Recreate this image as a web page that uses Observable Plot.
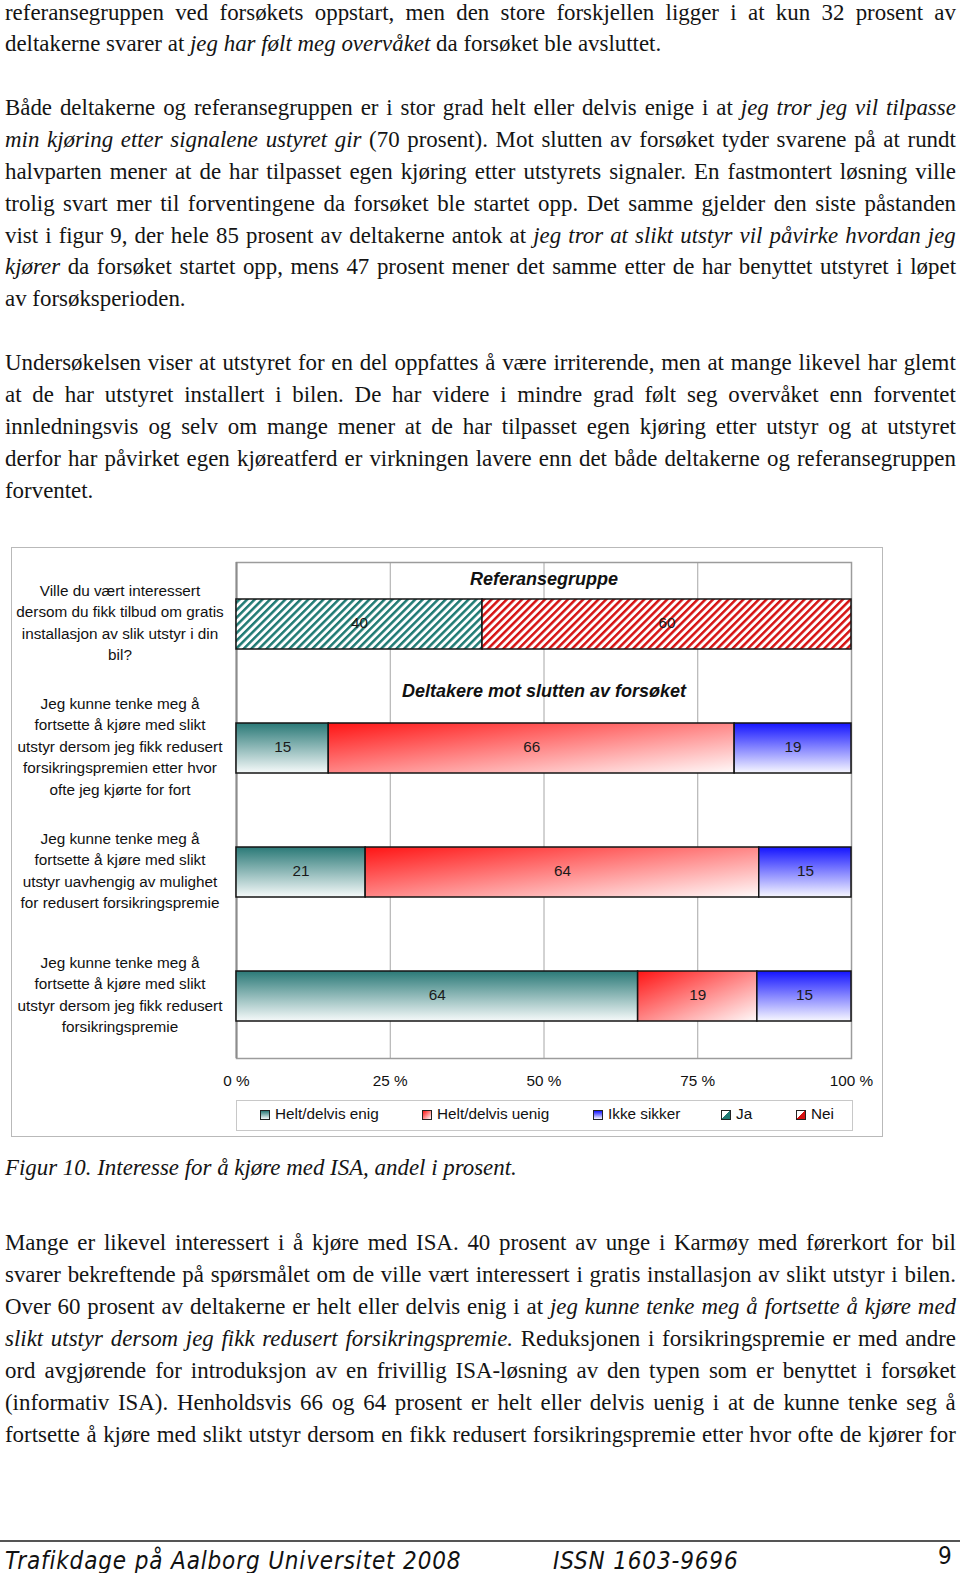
<!DOCTYPE html>
<html>
<head>
<meta charset="utf-8">
<script src="https://cdn.jsdelivr.net/npm/d3@7"></script>
<script src="https://cdn.jsdelivr.net/npm/@observablehq/plot@0.6"></script>
<style>
html,body{margin:0;padding:0;background:#fff;}
body{width:960px;height:1573px;position:relative;overflow:hidden;}
.txt{position:absolute;left:5px;width:951px;font-family:"Liberation Serif","Times New Roman",serif;font-size:22.9px;color:#141414;}
.txt .line{white-space:nowrap;}
.txt .line.j{display:flex;justify-content:space-between;}
#blockA .line{height:31.87px;line-height:31.87px;}
#blockB .line{height:31.95px;line-height:31.95px;}
#caption{position:absolute;left:5px;top:1152px;height:32px;line-height:32px;font-family:"Liberation Serif","Times New Roman",serif;font-style:italic;font-size:22.9px;color:#141414;white-space:nowrap;}
#frame{position:absolute;left:11px;top:547px;width:870px;height:588px;border:1px solid #b9b9b9;}
#chart{position:absolute;left:0;top:547px;}
#legend{position:absolute;left:236px;top:1100px;width:615px;height:29px;border:1px solid #c8c8c8;font-family:"Liberation Sans",Arial,sans-serif;font-size:15.3px;color:#111;}
#legend .item{position:absolute;top:-2px;height:29px;line-height:29px;white-space:nowrap;}
#legend .sw{position:absolute;top:9px;width:8px;height:8px;border:1.5px solid #222;}
#rule{position:absolute;left:0;top:1540px;width:960px;height:2px;background:#555;}
.foot{position:absolute;top:1546px;height:30px;line-height:30px;font-family:"Liberation Sans Narrow","DejaVu Sans Condensed",sans-serif;font-style:italic;font-size:24px;color:#111;white-space:nowrap;letter-spacing:0.85px;}
</style>
</head>
<body>
<div class="txt" id="blockA" style="top:-3.4px"></div>
<div id="frame"></div>
<div id="chart"></div>
<div id="legend"></div>
<div id="caption">Figur 10. Interesse for å kjøre med ISA, andel i prosent.</div>
<div class="txt" id="blockB" style="top:1227px"></div>
<div id="rule"></div>
<div class="foot" style="left:5px">Trafikdage på Aalborg Universitet 2008</div>
<div class="foot" style="left:553px">ISSN 1603-9696</div>
<div class="foot" style="left:938px;top:1541px;font-style:normal">9</div>
<script>
// ---------- chart data ----------
const rows = ["ref", "q1", "q2", "q3"];
const rowLabels = [
  "Ville du vært interessert\ndersom du fikk tilbud om gratis\ninstallasjon av slik utstyr i din\nbil?",
  "Jeg kunne tenke meg å\nfortsette å kjøre med slikt\nutstyr dersom jeg fikk redusert\nforsikringspremien etter hvor\nofte jeg kjørte for fort",
  "Jeg kunne tenke meg å\nfortsette å kjøre med slikt\nutstyr uavhengig av mulighet\nfor redusert forsikringspremie",
  "Jeg kunne tenke meg å\nfortsette å kjøre med slikt\nutstyr dersom jeg fikk redusert\nforsikringspremie"
];
const categories = ["Helt/delvis enig", "Helt/delvis uenig", "Ikke sikker", "Ja", "Nei"];
const refCategories = ["Ja", "Nei"];
const refValues = [40, 60];
const surveyCategories = ["Helt/delvis enig", "Helt/delvis uenig", "Ikke sikker"];
const q1Values = [15, 66, 19];
const q2Values = [21, 64, 15];
const q3Values = [64, 19, 15];
const panelTitles = ["Referansegruppe", "Deltakere mot slutten av forsøket"];
const xTicks = [0, 0.25, 0.5, 0.75, 1];

// ---------- page text ----------
const linesA = [
  ["j", "referansegruppen ved forsøkets oppstart, men den store forskjellen ligger i at kun 32 prosent av"],
  ["l", "deltakerne svarer at *jeg har følt meg overvåket* da forsøket ble avsluttet."],
  ["b", ""],
  ["j", "Både deltakerne og referansegruppen er i stor grad helt eller delvis enige i at *jeg tror jeg vil tilpasse*"],
  ["j", "*min kjøring etter signalene ustyret gir* (70 prosent). Mot slutten av forsøket tyder svarene på at rundt"],
  ["j", "halvparten mener at de har tilpasset egen kjøring etter utstyrets signaler. En fastmontert løsning ville"],
  ["j", "trolig svart mer til forventingene da forsøket ble startet opp. Det samme gjelder den siste påstanden"],
  ["j", "vist i figur 9, der hele 85 prosent av deltakerne antok at *jeg tror at slikt utstyr vil påvirke hvordan jeg*"],
  ["j", "*kjører* da forsøket startet opp, mens 47 prosent mener det samme etter de har benyttet utstyret i løpet"],
  ["l", "av forsøksperioden."],
  ["b", ""],
  ["j", "Undersøkelsen viser at utstyret for en del oppfattes å være irriterende, men at mange likevel har glemt"],
  ["j", "at de har utstyret installert i bilen. De har videre i mindre grad følt seg overvåket enn forventet"],
  ["j", "innledningsvis og selv om mange mener at de har tilpasset egen kjøring etter utstyr og at utstyret"],
  ["j", "derfor har påvirket egen kjøreatferd er virkningen lavere enn det både deltakerne og referansegruppen"],
  ["l", "forventet."]
];
const linesB = [
  ["j", "Mange er likevel interessert i å kjøre med ISA. 40 prosent av unge i Karmøy med førerkort for bil"],
  ["j", "svarer bekreftende på spørsmålet om de ville vært interessert i gratis installasjon av slikt utstyr i bilen."],
  ["j", "Over 60 prosent av deltakerne er helt eller delvis enig i at *jeg kunne tenke meg å fortsette å kjøre med*"],
  ["j", "*slikt utstyr dersom jeg fikk redusert forsikringspremie.* Reduksjonen i forsikringspremie er med andre"],
  ["j", "ord avgjørende for introduksjon av en frivillig ISA-løsning av den typen som er benyttet i forsøket"],
  ["j", "(informativ ISA). Henholdsvis 66 og 64 prosent er helt eller delvis uenig i at de kunne tenke seg å"],
  ["j", "fortsette å kjøre med slikt utstyr dersom en fikk redusert forsikringspremie etter hvor ofte de kjører for"]
];

function renderLines(container, lines) {
  for (const [kind, text] of lines) {
    const div = document.createElement("div");
    div.className = "line" + (kind === "j" ? " j" : "");
    if (kind !== "b") {
      let italic = false;
      const words = text.split(" ");
      words.forEach((w, wi) => {
        const span = document.createElement("span");
        let buf = "";
        const flush = () => {
          if (!buf) return;
          const el = document.createElement(italic ? "i" : "span");
          el.textContent = buf;
          span.appendChild(el);
          buf = "";
        };
        for (const ch of w) {
          if (ch === "*") { flush(); italic = !italic; } else buf += ch;
        }
        flush();
        div.appendChild(span);
        if (kind !== "j" && wi < words.length - 1) div.appendChild(document.createTextNode(" "));
      });
    }
    container.appendChild(div);
  }
}
renderLines(document.getElementById("blockA"), linesA);
renderLines(document.getElementById("blockB"), linesB);

// ---------- chart ----------
const table = [
  ...refCategories.map((c, i) => ({row: "ref", category: c, value: refValues[i]})),
  ...surveyCategories.map((c, i) => ({row: "q1", category: c, value: q1Values[i]})),
  ...surveyCategories.map((c, i) => ({row: "q2", category: c, value: q2Values[i]})),
  ...surveyCategories.map((c, i) => ({row: "q3", category: c, value: q3Values[i]}))
];

const chart = Plot.plot({
  width: 882,
  height: 543,
  marginLeft: 236,
  marginRight: 31,
  marginTop: 15,
  marginBottom: 32,
  style: {fontFamily: "'Liberation Sans', Arial, sans-serif", fontSize: "15.3px", color: "#111", background: "transparent", overflow: "visible"},
  x: {domain: [0, 1], ticks: xTicks, tickFormat: d => `${Math.round(d * 100)} %`, tickSize: 0, tickPadding: 17, label: null},
  y: {domain: rows, axis: null, paddingInner: 0.597, paddingOuter: 0.2985},
  color: {domain: categories, range: ["url(#gEnig)", "url(#gUenig)", "url(#gIkke)", "url(#pJa)", "url(#pNei)"]},
  marks: [
    Plot.ruleX([0.25, 0.5, 0.75], {stroke: "#a6a6a6", strokeWidth: 1}),
    Plot.frame({stroke: "#9c9c9c", strokeWidth: 1.5}),
    Plot.ruleX([0], {stroke: "#8c8c8c", strokeWidth: 2}),
    Plot.barX(table, Plot.stackX({x: "value", y: "row", fill: "category", offset: "normalize", stroke: "#151515", strokeWidth: 1.5})),
    Plot.text(table, Plot.stackX({x: "value", y: "row", text: d => String(d.value), offset: "normalize", fill: "#1a1a1a", fontSize: 15.3, dy: -1.5})),
    Plot.text(rowLabels, {y: (d, i) => rows[i], text: d => d, frameAnchor: "left", dx: -116.5, dy: -3.5, textAnchor: "middle", lineAnchor: "middle", lineHeight: 1.4, fontSize: 15.3, fill: "#111"}),
    Plot.text([panelTitles[0]], {x: () => 0.5, y: () => "ref", text: d => d, dy: -45, fontWeight: "bold", fontStyle: "italic", fontSize: 18, fill: "#111"}),
    Plot.text([panelTitles[1]], {x: () => 0.5, y: () => "q1", text: d => d, dy: -57.5, fontWeight: "bold", fontStyle: "italic", fontSize: 18, fill: "#111"})
  ]
});

const defs = d3.select(chart).insert("defs", ":first-child");
function vgrad(id, top, bottom, diag) {
  const g = defs.append("linearGradient").attr("id", id)
    .attr("x1", 0).attr("y1", 0).attr("x2", diag ? 1 : 0).attr("y2", 1);
  g.append("stop").attr("offset", 0).attr("stop-color", top);
  g.append("stop").attr("offset", 1).attr("stop-color", bottom);
}
vgrad("gEnig", "#2a7977", "#f6fafa", false);
vgrad("gUenig", "#ff1414", "#fffafa", true);
vgrad("gIkke", "#1414ff", "#f8f8ff", false);
function hatch(id, color) {
  const p = defs.append("pattern").attr("id", id).attr("patternUnits", "userSpaceOnUse")
    .attr("width", 5.4).attr("height", 5.4).attr("patternTransform", "rotate(45)");
  p.append("rect").attr("width", 5.4).attr("height", 5.4).attr("fill", "#fff");
  p.append("rect").attr("width", 2.5).attr("height", 5.4).attr("fill", color);
}
hatch("pJa", "#1f7a73");
hatch("pNei", "#d61212");
document.getElementById("chart").appendChild(chart);

// ---------- legend (HTML) ----------
const legendSwatch = {
  "Helt/delvis enig": "linear-gradient(#2a7977, #f6fafa)",
  "Helt/delvis uenig": "linear-gradient(135deg, #ff1414, #fff)",
  "Ikke sikker": "linear-gradient(#1414ff, #f8f8ff)",
  "Ja": "linear-gradient(135deg, #fff 50%, #1f7a73 50%)",
  "Nei": "linear-gradient(135deg, #fff 50%, #d61212 50%)"
};
const legendX = [23, 185, 356, 484, 559];
const legend = document.getElementById("legend");
categories.forEach((c, i) => {
  const sw = document.createElement("div");
  sw.className = "sw";
  sw.style.left = legendX[i] + "px";
  sw.style.background = legendSwatch[c];
  legend.appendChild(sw);
  const t = document.createElement("div");
  t.className = "item";
  t.style.left = (legendX[i] + 15) + "px";
  t.textContent = c;
  legend.appendChild(t);
});
</script>
</body>
</html>
